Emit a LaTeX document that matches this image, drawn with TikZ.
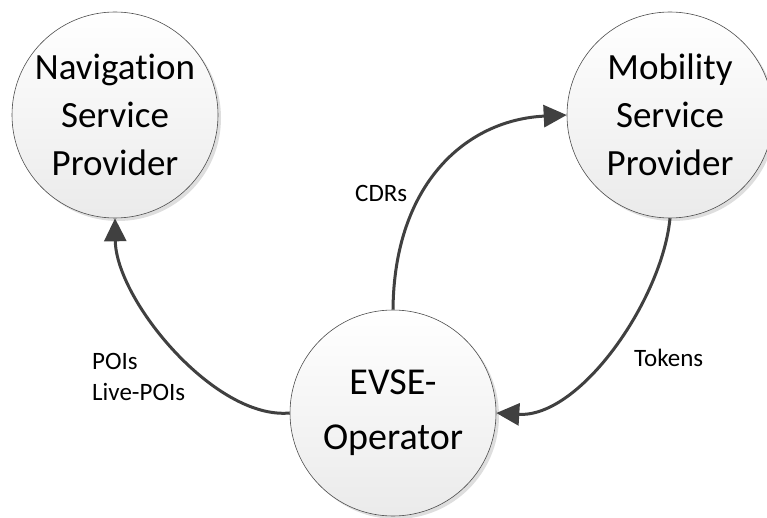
\documentclass[tikz,border=0pt]{standalone}
\usepackage{fontspec}
\setmainfont{Carlito}[Ligatures=NoCommon]
\usetikzlibrary{arrows.meta,shadows}
\definecolor{arr}{HTML}{404040}
\tikzset{
  party/.style={circle, draw=black!70, line width=0.6pt, minimum size=206pt, inner sep=0pt,
    top color=white, bottom color=black!8, align=center,
    font=\fontsize{37}{48}\selectfont,
    drop shadow={shadow xshift=3pt, shadow yshift=-3pt, fill=black!13, opacity=1}},
  flow/.style={draw=arr, line width=3pt, -{Triangle[length=23pt,width=22pt]}},
  lbl/.style={font=\fontsize{25}{31}\selectfont, align=left, inner sep=0pt}
}
\begin{document}
\begin{tikzpicture}[x=1pt,y=-1pt]
\useasboundingbox (0,0) rectangle (767,518);
\node[party] (nav) at (115,115) {Navigation\\Service\\Provider};
\node[party] (msp) at (670,115) {Mobility\\Service\\Provider};
\node[party, font=\fontsize{38}{55}\selectfont] (evse) at (393,413) {EVSE-\\Operator};
\draw[flow] (evse.west) .. controls (215,420) and (116,300) .. (nav.south);
\draw[flow] (evse.north) .. controls (394,185) and (465,120) .. (msp.west);
\draw[flow] (msp.south) .. controls (662,300) and (580,418) .. (evse.east);
\node[lbl, anchor=north west] (poi) at (92,353) {POIs\\Live-POIs};
\node[lbl, anchor=base west] (cdr) at (355,202) {CDRs};
\node[lbl, anchor=base west] (tok) at (634,366) {Tokens};
\end{tikzpicture}
\end{document}
